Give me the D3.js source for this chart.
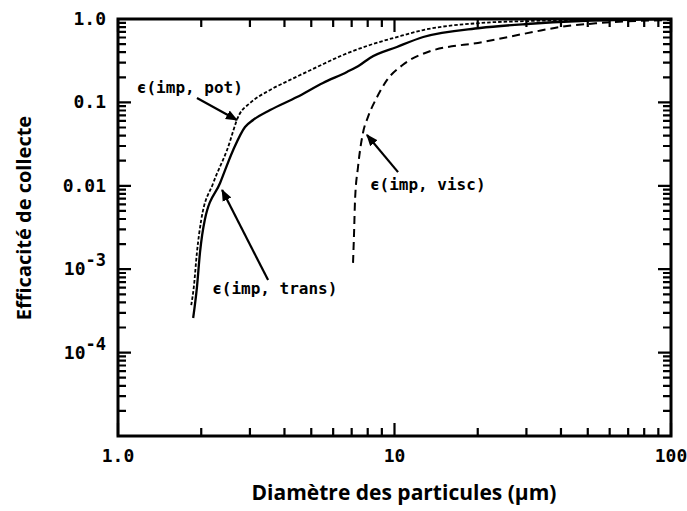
<!DOCTYPE html>
<html>
<head>
<meta charset="utf-8">
<script src="https://cdn.jsdelivr.net/npm/d3@7"></script>
<style>
  body { margin: 0; background: #fff; }
  svg { display: block; }
</style>
</head>
<body>
<div id="chart"></div>
<script>
// Diameter (um) and collection efficiency
const potD = [1.84, 1.88, 1.93, 2.00, 2.21, 2.48, 2.74, 3.00, 3.55, 4.19, 5.25, 6.51, 8.15, 10.2, 12.7, 20.4, 30.9, 55.4, 100];
const potE = [3.7e-4, 6.1e-4, 1.6e-3, 3.9e-3, 0.0108, 0.0269, 0.0706, 0.098, 0.141, 0.186, 0.266, 0.370, 0.488, 0.608, 0.738, 0.895, 0.946, 0.986, 1.0];

const transD = [1.87, 1.93, 1.98, 2.06, 2.34, 2.61, 2.88, 3.08, 3.55, 4.44, 5.51, 6.73, 7.50, 8.15, 10.2, 12.7, 20.4, 30.1, 46.9, 77.3, 100];
const transE = [2.6e-4, 6.1e-4, 1.6e-3, 3.9e-3, 0.0108, 0.0269, 0.0507, 0.0615, 0.081, 0.116, 0.171, 0.232, 0.281, 0.341, 0.462, 0.608, 0.780, 0.871, 0.946, 0.986, 0.995];

const viscD = [7.08, 7.14, 7.20, 7.38, 7.69, 8.02, 8.65, 9.40, 10.7, 13.2, 20.9, 31.7, 39.7, 55.4, 100];
const viscE = [1.19e-3, 2.7e-3, 6.8e-3, 0.0168, 0.043, 0.067, 0.116, 0.186, 0.281, 0.402, 0.530, 0.698, 0.802, 0.895, 0.973];

// Tick labels
const xLabels = [[1, "1.0"], [10, "10"], [100, "100"]];
const yLabels = [[1, "1.0"], [0.1, "0.1"], [0.01, "0.01"], [1e-3, "10", "-3"], [1e-4, "10", "-4"]];

// Annotations: label text, text anchor (d, e), arrow start and tip (d, e)
const notes = [
    { text: "ϵ(imp, pot)",   at: [1.17, 0.130],  from: [1.93, 0.113],  to: [2.69, 0.0615] },
    { text: "ϵ(imp, trans)", at: [2.19, 5.0e-4], from: [3.49, 7.4e-4], to: [2.38, 8.9e-3] },
    { text: "ϵ(imp, visc)",  at: [8.15, 8.9e-3], from: [10.3, 0.0146], to: [7.95, 0.0407] }
];

const W = 687, H = 511;
const mLeft = 118, mRight = 671, mTop = 19, mBottom = 436;

const svg = d3.select("#chart").append("svg")
    .attr("width", W)
    .attr("height", H);

const x = d3.scaleLog().domain([1, 100]).range([mLeft, mRight]);
const y = d3.scaleLog().domain([1e-5, 1]).range([mBottom, mTop]);

// 1..9 in every decade of each axis
const xTicks = d3.range(0, 2).flatMap(p => d3.range(1, 10).map(k => k * Math.pow(10, p))).concat([100]);
const yTicks = d3.range(-5, 0).flatMap(p => d3.range(1, 10).map(k => k * Math.pow(10, p))).concat([1]);

const isMajor = v => Math.abs(Math.log10(v) - Math.round(Math.log10(v))) < 1e-6;
const tickLen = v => isMajor(v) ? 13 : 8;

// Inward ticks on all four sides
const tickPath = [];
xTicks.forEach(d => {
    tickPath.push(`M${x(d)},${mBottom}v${-tickLen(d)}`);
    tickPath.push(`M${x(d)},${mTop}v${tickLen(d)}`);
});
yTicks.forEach(d => {
    tickPath.push(`M${mLeft},${y(d)}h${tickLen(d)}`);
    tickPath.push(`M${mRight},${y(d)}h${-tickLen(d)}`);
});
svg.append("path")
    .attr("d", tickPath.join(""))
    .attr("fill", "none")
    .attr("stroke", "#000")
    .attr("stroke-width", 2.2);

// Frame
svg.append("rect")
    .attr("x", mLeft).attr("y", mTop)
    .attr("width", mRight - mLeft).attr("height", mBottom - mTop)
    .attr("fill", "none").attr("stroke", "#000").attr("stroke-width", 3);

const monoFont = "'DejaVu Sans Mono', monospace";

// Tick labels
svg.append("g").selectAll("text")
    .data(xLabels)
    .enter().append("text")
    .attr("x", d => x(d[0]))
    .attr("y", mBottom + 26)
    .attr("text-anchor", "middle")
    .attr("font-family", monoFont)
    .attr("font-weight", "bold")
    .attr("font-size", 18)
    .text(d => d[1]);

const yl = svg.append("g").selectAll("text")
    .data(yLabels)
    .enter().append("text")
    .attr("x", 106)
    .attr("y", d => y(d[0]) + 6)
    .attr("text-anchor", "end")
    .attr("font-family", monoFont)
    .attr("font-weight", "bold")
    .attr("font-size", 18);
yl.append("tspan").text(d => d[1]);
yl.filter(d => d[2]).append("tspan")
    .attr("dy", -9)
    .attr("font-size", 17)
    .text(d => d[2]);

// Axis titles
svg.append("text")
    .attr("x", 404)
    .attr("y", 500)
    .attr("text-anchor", "middle")
    .attr("font-family", "'Open Sans', sans-serif")
    .attr("font-weight", "bold")
    .attr("font-size", 21)
    .text("Diamètre des particules (μm)");

svg.append("text")
    .attr("transform", "translate(31,218) rotate(-90)")
    .attr("text-anchor", "middle")
    .attr("font-family", "'Open Sans', sans-serif")
    .attr("font-weight", "bold")
    .attr("font-size", 20)
    .text("Efficacité de collecte");

// Curves
const line = d3.line()
    .x(d => x(d[0]))
    .y(d => y(d[1]))
    .curve(d3.curveMonotoneX);

const series = [
    { d: potD, e: potE, dash: "3.5,2", w: 1.8 },
    { d: transD, e: transE, dash: null, w: 2.3 },
    { d: viscD, e: viscE, dash: "8,5", w: 2 }
];

svg.append("g").selectAll("path")
    .data(series)
    .enter().append("path")
    .attr("d", s => line(s.d.map((v, i) => [v, s.e[i]])))
    .attr("fill", "none")
    .attr("stroke", "#000")
    .attr("stroke-width", s => s.w)
    .attr("stroke-dasharray", s => s.dash);

// Arrow annotations
svg.append("defs").append("marker")
    .attr("id", "head")
    .attr("viewBox", "0 0 10 10")
    .attr("refX", 9).attr("refY", 5)
    .attr("markerWidth", 12).attr("markerHeight", 12)
    .attr("markerUnits", "userSpaceOnUse")
    .attr("orient", "auto")
    .append("path")
    .attr("d", "M0,1 L10,5 L0,9 Z")
    .attr("fill", "#000");

svg.append("g").selectAll("line")
    .data(notes)
    .enter().append("line")
    .attr("x1", n => x(n.from[0])).attr("y1", n => y(n.from[1]))
    .attr("x2", n => x(n.to[0])).attr("y2", n => y(n.to[1]))
    .attr("stroke", "#000")
    .attr("stroke-width", 2.2)
    .attr("marker-end", "url(#head)");

svg.append("g").selectAll("text")
    .data(notes)
    .enter().append("text")
    .attr("x", n => x(n.at[0]))
    .attr("y", n => y(n.at[1]))
    .attr("font-family", monoFont)
    .attr("font-weight", "bold")
    .attr("font-size", 16)
    .text(n => n.text);
</script>
</body>
</html>
